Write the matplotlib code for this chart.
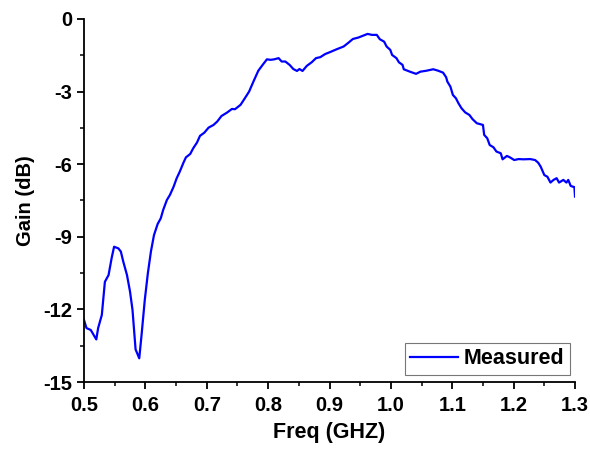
import matplotlib
matplotlib.use("Agg")
import matplotlib.pyplot as plt
from matplotlib.ticker import MultipleLocator, FormatStrFormatter

plt.rcParams['font.family'] = ['Liberation Sans', 'DejaVu Sans']
plt.rcParams['font.weight'] = 'bold'
plt.rcParams['axes.unicode_minus'] = False

# measured gain curve
freq = [0.500, 0.504, 0.511, 0.520, 0.523, 0.529, 0.534, 0.540, 0.545, 0.549,
        0.556, 0.560, 0.564, 0.570, 0.575, 0.579, 0.584, 0.590, 0.594, 0.599,
        0.604, 0.609, 0.614, 0.620, 0.625, 0.629, 0.635, 0.640, 0.646, 0.651,
        0.656, 0.662, 0.666, 0.673, 0.678, 0.684, 0.689, 0.696, 0.703, 0.711,
        0.717, 0.724, 0.733, 0.741, 0.746, 0.755, 0.762, 0.769, 0.776, 0.784,
        0.791, 0.798, 0.804, 0.810, 0.817, 0.822, 0.828, 0.835, 0.841, 0.847,
        0.851, 0.856, 0.863, 0.871, 0.878, 0.885, 0.893, 0.901, 0.912, 0.923,
        0.931, 0.938, 0.947, 0.955, 0.962, 0.969, 0.977, 0.982, 0.989, 0.993,
        0.999, 1.002, 1.009, 1.013, 1.019, 1.021, 1.031, 1.041, 1.048, 1.058,
        1.069, 1.077, 1.085, 1.090, 1.092, 1.097, 1.101, 1.106, 1.110, 1.115,
        1.121, 1.128, 1.133, 1.140, 1.150, 1.152, 1.157, 1.161, 1.167, 1.172,
        1.179, 1.182, 1.189, 1.194, 1.201, 1.208, 1.216, 1.227, 1.235, 1.240,
        1.244, 1.250, 1.255, 1.260, 1.265, 1.270, 1.274, 1.281, 1.286, 1.289,
        1.293, 1.299, 1.300]
gain = [-12.44, -12.77, -12.85, -13.24, -12.77, -12.23, -10.86, -10.58, -9.88, -9.41,
        -9.48, -9.61, -10.03, -10.58, -11.27, -12.02, -13.65, -14.02, -12.99, -11.61,
        -10.51, -9.61, -8.93, -8.47, -8.24, -7.89, -7.48, -7.27, -6.93, -6.58,
        -6.31, -5.94, -5.72, -5.58, -5.34, -5.11, -4.83, -4.70, -4.49, -4.38,
        -4.24, -4.01, -3.87, -3.72, -3.73, -3.55, -3.28, -3.00, -2.59, -2.14,
        -1.90, -1.67, -1.69, -1.67, -1.62, -1.76, -1.76, -1.90, -2.07, -2.15,
        -2.07, -2.15, -1.94, -1.79, -1.62, -1.58, -1.45, -1.37, -1.25, -1.14,
        -0.98, -0.83, -0.77, -0.69, -0.62, -0.66, -0.66, -0.84, -0.94, -1.14,
        -1.28, -1.49, -1.62, -1.79, -1.90, -2.08, -2.18, -2.27, -2.18, -2.14,
        -2.08, -2.14, -2.22, -2.41, -2.59, -2.80, -3.14, -3.28, -3.48, -3.69,
        -3.86, -3.97, -4.14, -4.31, -4.38, -4.79, -4.93, -5.21, -5.30, -5.48,
        -5.55, -5.80, -5.66, -5.72, -5.83, -5.79, -5.80, -5.79, -5.83, -5.94,
        -6.10, -6.45, -6.52, -6.76, -6.65, -6.58, -6.76, -6.65, -6.76, -6.65,
        -6.90, -6.95, -7.34]

fig = plt.figure(figsize=(5.9, 4.5), dpi=100)
ax = fig.add_axes([0.1424, 0.151, 0.8322, 0.807])

ax.plot(freq, gain, color='#0000ff', lw=1.6, label='Measured')

ax.set_xlim(0.5, 1.3)
ax.set_ylim(-15, 0)
ax.xaxis.set_major_locator(MultipleLocator(0.1))
ax.xaxis.set_minor_locator(MultipleLocator(0.05))
ax.yaxis.set_major_locator(MultipleLocator(3))
ax.yaxis.set_minor_locator(MultipleLocator(1.5))
ax.xaxis.set_major_formatter(FormatStrFormatter('%.1f'))

ax.spines['top'].set_visible(False)
ax.spines['right'].set_visible(False)
for s in ['left', 'bottom']:
    ax.spines[s].set_linewidth(1.3)
ax.tick_params(which='major', direction='out', length=5, width=1.3, labelsize=14.5)
ax.tick_params(axis='x', which='major', pad=5)
ax.tick_params(which='minor', direction='out', length=3, width=1.1)

ax.set_xlabel('Freq (GHZ)', fontsize=15.5, fontweight='bold', labelpad=5)
ax.set_ylabel('Gain (dB)', fontsize=14.5, fontweight='bold', labelpad=6)

leg = ax.legend(loc='lower right', fontsize=15.5, frameon=True, fancybox=False,
                edgecolor='#555555', handlelength=2.2, borderpad=0.25,
                handletextpad=0.3, borderaxespad=0,
                bbox_to_anchor=(0.99, 0.02))
leg.get_frame().set_linewidth(0.8)

fig.savefig('out.png', dpi=100)
